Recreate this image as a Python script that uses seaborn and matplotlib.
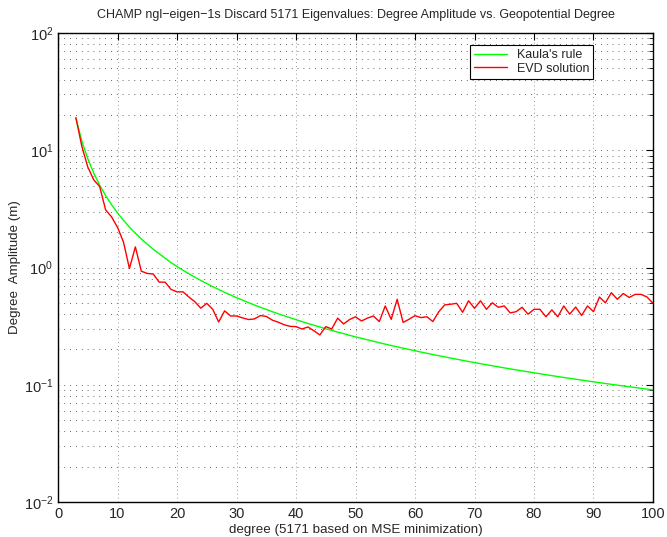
import numpy as np
import pandas as pd
import matplotlib
matplotlib.use("Agg")
import matplotlib.pyplot as plt
import seaborn as sns
from matplotlib.ticker import LogLocator, NullFormatter

# ---- data ----
degrees = list(range(3, 101))

kaula = [18.75, 11.96, 8.46, 6.39, 5.04, 4.11, 3.43, 2.92, 2.53, 2.21,
         1.96, 1.75, 1.58, 1.43, 1.31, 1.20, 1.10, 1.02, 0.948, 0.884,
         0.827, 0.775, 0.729, 0.687, 0.649, 0.614, 0.583, 0.553, 0.527, 0.502,
         0.479, 0.458, 0.439, 0.420, 0.403, 0.388, 0.373, 0.359, 0.346, 0.333,
         0.322, 0.311, 0.300, 0.291, 0.281, 0.273, 0.264, 0.256, 0.249, 0.242,
         0.235, 0.228, 0.222, 0.216, 0.211, 0.205, 0.200, 0.195, 0.190, 0.1855,
         0.1811, 0.1769, 0.1728, 0.1689, 0.1651, 0.1615, 0.1579, 0.1546, 0.1513, 0.1481,
         0.1451, 0.1422, 0.1393, 0.1366, 0.1339, 0.1314, 0.1289, 0.1265, 0.1241, 0.1218,
         0.1196, 0.1175, 0.1154, 0.1134, 0.1115, 0.1096, 0.1077, 0.1059, 0.1042, 0.1025,
         0.1008, 0.0992, 0.0977, 0.0961, 0.0947, 0.0932, 0.0918, 0.0904]

evd = [19.0, 10.8, 7.2, 5.6, 4.9, 3.1, 2.7, 2.2, 1.65, 0.98,
       1.5, 0.93, 0.89, 0.88, 0.75, 0.75, 0.65, 0.62, 0.62, 0.56,
       0.51, 0.45, 0.495, 0.44, 0.343, 0.427, 0.386, 0.386, 0.372, 0.36,
       0.364, 0.389, 0.383, 0.356, 0.342, 0.325, 0.315, 0.313, 0.299, 0.311,
       0.289, 0.266, 0.313, 0.299, 0.37, 0.33, 0.36, 0.38, 0.35, 0.37,
       0.386, 0.346, 0.47, 0.361, 0.536, 0.34, 0.362, 0.388, 0.374, 0.38,
       0.346, 0.42, 0.48, 0.486, 0.495, 0.415, 0.52, 0.449, 0.52, 0.44,
       0.50, 0.458, 0.47, 0.41, 0.42, 0.458, 0.40, 0.44, 0.44, 0.38,
       0.435, 0.38, 0.47, 0.40, 0.46, 0.39, 0.47, 0.42, 0.56, 0.50,
       0.61, 0.536, 0.60, 0.555, 0.59, 0.59, 0.56, 0.495]

series_names = ["Kaula's rule", "EVD solution"]
x_ticks = list(range(0, 101, 10))

title = "CHAMP ngl\u2212eigen\u22121s Discard 5171 Eigenvalues: Degree Amplitude vs. Geopotential Degree"
xlabel = "degree (5171 based on MSE minimization)"
ylabel = "Degree  Amplitude (m)"

# ---- styling ----
sns.set_style("white")
plt.rcParams["font.family"] = ["Liberation Sans", "DejaVu Sans"]
plt.rcParams["mathtext.default"] = "regular"

df = pd.DataFrame({
    "degree": degrees * 2,
    "amp": kaula + evd,
    "series": [series_names[0]] * len(degrees) + [series_names[1]] * len(degrees),
})

fig = plt.figure(figsize=(6.67, 5.37), dpi=100)
ax = fig.add_axes([0.087, 0.0652, 0.892, 0.8733])

ax.set_yscale("log")
ax.set_xlim(0, 100)
ax.set_ylim(1e-2, 1e2)
ax.set_xticks(x_ticks)
ax.yaxis.set_major_locator(LogLocator(base=10, numticks=10))
ax.yaxis.set_minor_locator(LogLocator(base=10, subs=np.arange(2, 10), numticks=20))
ax.yaxis.set_minor_formatter(NullFormatter())

ax.set_axisbelow(True)
ax.grid(True, which="major", axis="x", linestyle=(0, (1, 3)), color="#9a9a9a", linewidth=0.7)
ax.grid(True, which="both", axis="y", linestyle=(0, (1, 6)), color="#333333", linewidth=0.6)

sns.lineplot(data=df, x="degree", y="amp", hue="series",
             palette={series_names[0]: "#00ff00", series_names[1]: "#ff0000"},
             linewidth=1.0, ax=ax, legend=True)

ax.tick_params(axis="both", which="both", direction="in", top=True, right=True,
               labelsize=10.5, color="black")
ax.tick_params(axis="both", which="major", length=5)
ax.tick_params(axis="y", which="minor", length=3)
for s in ax.spines.values():
    s.set_visible(True)
    s.set_color("black")
    s.set_linewidth(1.0)

ax.set_title(title, fontsize=9, pad=11)
ax.set_xlabel(xlabel, fontsize=9.6, labelpad=2)
ax.set_ylabel(ylabel, fontsize=9.6, labelpad=2)

leg = ax.legend(loc="upper right", bbox_to_anchor=(0.899, 0.974), borderaxespad=0,
                fontsize=9, frameon=True, fancybox=False, framealpha=1,
                edgecolor="black", handlelength=2.6, borderpad=0.3, labelspacing=0.15)
leg.get_frame().set_linewidth(0.8)
for line in leg.get_lines():
    line.set_linewidth(1.0)

fig.savefig("out.png", dpi=100)
